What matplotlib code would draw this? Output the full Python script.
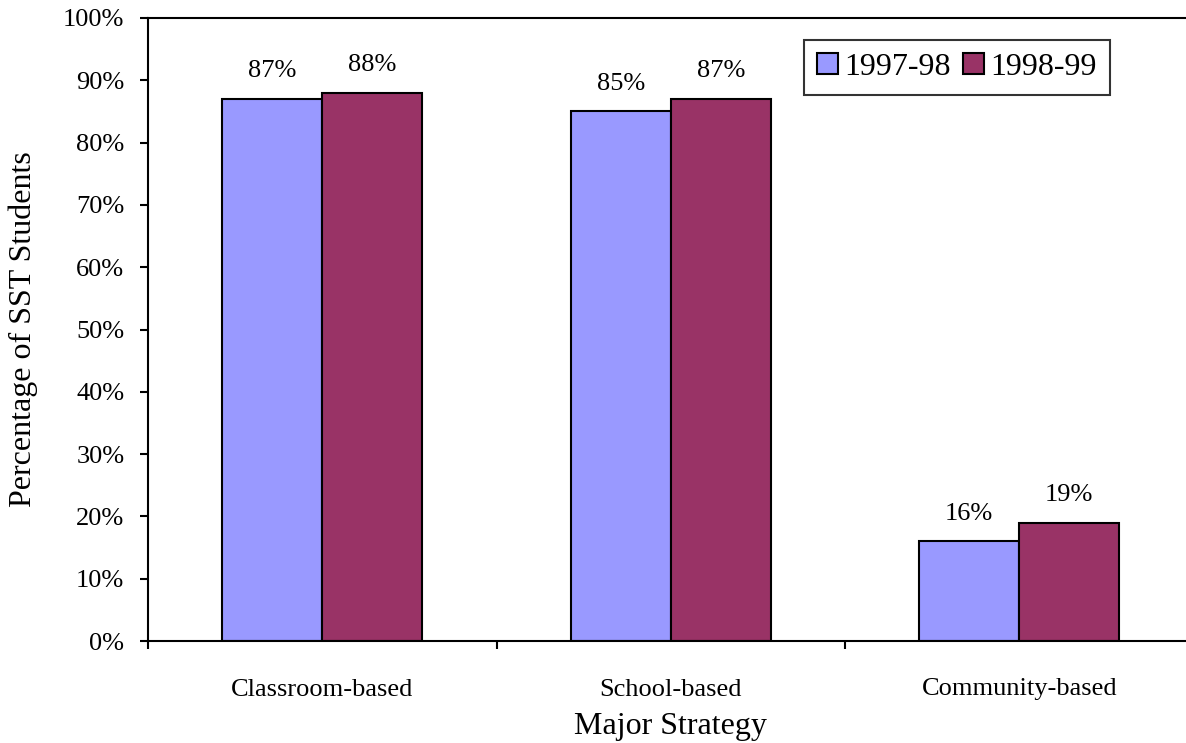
import matplotlib
matplotlib.use("Agg")
import matplotlib.pyplot as plt
import numpy as np
from matplotlib.ticker import FixedLocator, PercentFormatter

categories = ["Classroom-based", "School-based", "Community-based"]
series_names = ["1997-98", "1998-99"]
values_9798 = [87, 85, 16]
values_9899 = [88, 87, 19]
colors = ["#9999FF", "#993366"]

plt.rcParams['font.family'] = ['Liberation Serif', 'DejaVu Serif']

fig = plt.figure(figsize=(11.86, 7.43), dpi=100)
ax = fig.add_axes([148/1186, 102/743, 1045.5/1186, 623/743])

x = np.arange(len(categories))
w = 0.287
b1 = ax.bar(x - w/2, values_9798, width=w, color=colors[0], edgecolor='black', linewidth=1.5, label=series_names[0])
b2 = ax.bar(x + w/2, values_9899, width=w, color=colors[1], edgecolor='black', linewidth=1.5, label=series_names[1])

for bars, vals in ((b1, values_9798), (b2, values_9899)):
    for rect, v in zip(bars, vals):
        ax.annotate(f"{v}%", (rect.get_x() + rect.get_width()/2, v),
                    xytext=(0, 12), textcoords='offset points',
                    ha='center', va='bottom', fontsize=19)

ax.set_xlim(-0.5, len(categories) - 0.5)
ax.set_ylim(0, 100)
ax.yaxis.set_major_locator(FixedLocator(np.arange(0, 101, 10)))
ax.yaxis.set_major_formatter(PercentFormatter(decimals=0))

ax.xaxis.set_major_locator(FixedLocator(np.arange(-0.5, len(categories), 1.0)))
ax.xaxis.set_major_formatter(plt.NullFormatter())
ax.set_xticks(x, minor=True)
ax.set_xticklabels(categories, minor=True, fontsize=19)
ax.tick_params(axis='x', which='major', direction='out', length=6, width=1.5)
ax.tick_params(axis='x', which='minor', length=0, pad=27)
ax.tick_params(axis='y', direction='out', length=6, width=1.5, pad=11, labelsize=19)

for s in ['left', 'bottom', 'top']:
    ax.spines[s].set_linewidth(1.5)
ax.spines['right'].set_visible(False)

ax.set_xlabel("Major Strategy", fontsize=23, labelpad=8.5)
ax.set_ylabel("Percentage of SST Students", fontsize=23, labelpad=18)

leg = ax.legend(ncol=2, loc='upper left', bbox_to_anchor=(804/1186, 1 - 40/743),
                bbox_transform=fig.transFigure, fontsize=23, frameon=True,
                fancybox=False, handlelength=0.65, handleheight=0.65,
                handletextpad=0.2, columnspacing=0.4, borderpad=0.4,
                borderaxespad=0)
leg.get_frame().set_edgecolor('black')
leg.get_frame().set_linewidth(1.5)

fig.savefig("out.png", dpi=100)
